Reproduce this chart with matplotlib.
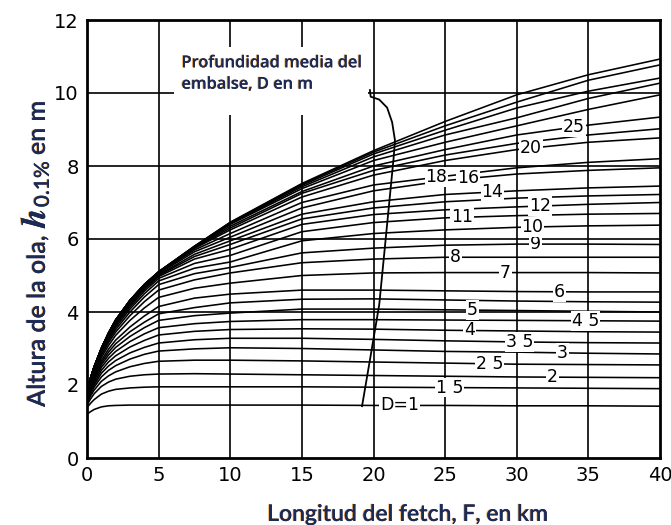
import matplotlib
matplotlib.use("Agg")
import matplotlib.pyplot as plt
import matplotlib.patheffects as pe
from matplotlib.patches import Rectangle
import numpy as np

plt.rcParams['mathtext.fontset'] = 'stix'

# fetch stations (km) at which every depth curve is read
fetch_km = [0, 0.25, 0.5, 1, 1.5, 2, 3, 4, 5, 7.5, 10, 15, 20, 25, 30, 35, 40]

# wave height h0.1% (m) per reservoir depth D (m)
shallow_depths = [1, 1.5, 2, 2.5, 3, 3.5, 4, 4.5, 5]
shallow_heights = [
    [1.20, 1.27, 1.33, 1.40, 1.43, 1.44, 1.45, 1.45, 1.45, 1.45, 1.45, 1.45, 1.44, 1.44, 1.43, 1.43, 1.42],
    [1.38, 1.50, 1.60, 1.75, 1.83, 1.88, 1.92, 1.94, 1.95, 1.95, 1.95, 1.95, 1.94, 1.93, 1.92, 1.91, 1.90],
    [1.45, 1.62, 1.76, 1.96, 2.08, 2.16, 2.24, 2.28, 2.30, 2.31, 2.30, 2.28, 2.26, 2.24, 2.22, 2.21, 2.20],
    [1.50, 1.70, 1.86, 2.10, 2.25, 2.36, 2.50, 2.59, 2.65, 2.68, 2.68, 2.66, 2.63, 2.60, 2.57, 2.56, 2.55],
    [1.55, 1.76, 1.94, 2.22, 2.40, 2.53, 2.71, 2.84, 2.93, 2.99, 3.02, 3.00, 2.96, 2.92, 2.90, 2.87, 2.85],
    [1.58, 1.81, 2.00, 2.32, 2.52, 2.67, 2.88, 3.03, 3.15, 3.24, 3.28, 3.28, 3.25, 3.21, 3.18, 3.16, 3.15],
    [1.60, 1.85, 2.06, 2.40, 2.63, 2.80, 3.04, 3.22, 3.37, 3.47, 3.52, 3.54, 3.53, 3.50, 3.48, 3.46, 3.45],
    [1.62, 1.89, 2.11, 2.48, 2.73, 2.92, 3.19, 3.40, 3.57, 3.68, 3.74, 3.79, 3.79, 3.78, 3.77, 3.76, 3.75],
    [1.64, 1.92, 2.16, 2.55, 2.82, 3.03, 3.33, 3.57, 3.77, 3.90, 3.97, 4.08, 4.08, 4.06, 4.04, 4.02, 4.00],
]

mid_depths = [5.5, 6, 7, 8, 9, 10, 11, 12, 13, 14]
mid_heights = [
    [1.66, 1.95, 2.20, 2.61, 2.90, 3.13, 3.46, 3.72, 3.95, 4.12, 4.25, 4.35, 4.36, 4.33, 4.30, 4.28, 4.27],
    [1.68, 1.98, 2.24, 2.67, 2.98, 3.23, 3.59, 3.89, 4.15, 4.38, 4.49, 4.60, 4.60, 4.58, 4.56, 4.55, 4.55],
    [1.70, 2.02, 2.29, 2.75, 3.08, 3.36, 3.77, 4.11, 4.40, 4.65, 4.79, 5.00, 5.07, 5.08, 5.08, 5.08, 5.07],
    [1.72, 2.05, 2.33, 2.81, 3.16, 3.45, 3.90, 4.28, 4.60, 4.88, 5.07, 5.35, 5.45, 5.50, 5.50, 5.50, 5.50],
    [1.74, 2.08, 2.37, 2.86, 3.22, 3.52, 4.00, 4.41, 4.75, 5.05, 5.22, 5.62, 5.75, 5.83, 5.86, 5.86, 5.85],
    [1.75, 2.10, 2.40, 2.90, 3.27, 3.58, 4.08, 4.50, 4.85, 5.20, 5.37, 5.95, 6.15, 6.25, 6.32, 6.36, 6.38],
    [1.76, 2.12, 2.42, 2.93, 3.31, 3.63, 4.14, 4.57, 4.92, 5.33, 5.55, 6.20, 6.45, 6.58, 6.64, 6.68, 6.70],
    [1.77, 2.13, 2.44, 2.95, 3.34, 3.67, 4.19, 4.62, 4.97, 5.45, 5.72, 6.40, 6.67, 6.80, 6.88, 6.95, 7.00],
    [1.78, 2.14, 2.46, 2.97, 3.37, 3.70, 4.23, 4.66, 5.00, 5.52, 5.85, 6.55, 6.85, 7.02, 7.12, 7.18, 7.22],
    [1.79, 2.15, 2.47, 2.98, 3.39, 3.73, 4.26, 4.69, 5.02, 5.58, 5.95, 6.68, 7.02, 7.22, 7.32, 7.40, 7.45],
]

deep_depths = [16, 18, 20, 22, 25, 30, 35, 40, 50, 100]
deep_heights = [
    [1.80, 2.17, 2.48, 2.99, 3.40, 3.75, 4.28, 4.72, 5.05, 5.65, 6.05, 6.85, 7.32, 7.60, 7.78, 7.88, 7.95],
    [1.81, 2.18, 2.49, 3.00, 3.41, 3.76, 4.30, 4.74, 5.07, 5.70, 6.15, 7.00, 7.48, 7.72, 7.95, 8.10, 8.20],
    [1.82, 2.19, 2.50, 3.00, 3.42, 3.77, 4.31, 4.75, 5.08, 5.74, 6.25, 7.15, 7.75, 8.15, 8.45, 8.65, 8.77],
    [1.83, 2.19, 2.50, 3.00, 3.42, 3.78, 4.31, 4.75, 5.09, 5.76, 6.30, 7.25, 7.88, 8.30, 8.62, 8.85, 9.02],
    [1.84, 2.20, 2.50, 3.00, 3.42, 3.78, 4.32, 4.75, 5.09, 5.77, 6.35, 7.30, 8.00, 8.45, 8.85, 9.12, 9.34],
    [1.85, 2.20, 2.50, 3.00, 3.42, 3.78, 4.32, 4.75, 5.10, 5.78, 6.40, 7.38, 8.15, 8.65, 9.10, 9.55, 9.95],
    [1.85, 2.20, 2.50, 3.00, 3.42, 3.78, 4.32, 4.75, 5.10, 5.79, 6.42, 7.43, 8.25, 8.85, 9.32, 9.85, 10.27],
    [1.85, 2.20, 2.50, 3.00, 3.42, 3.78, 4.32, 4.75, 5.10, 5.80, 6.44, 7.47, 8.33, 8.98, 9.59, 10.05, 10.41],
    [1.85, 2.20, 2.50, 3.00, 3.42, 3.78, 4.32, 4.75, 5.10, 5.80, 6.45, 7.50, 8.38, 9.10, 9.75, 10.35, 10.77],
    [1.85, 2.20, 2.50, 3.00, 3.42, 3.78, 4.32, 4.75, 5.10, 5.80, 6.46, 7.52, 8.42, 9.22, 9.95, 10.50, 10.93],
]

# in-line depth labels: depth, text, fetch where the label sits
label_depths = [1, 1.5, 2, 2.5, 3, 3.5, 4, 4.5, 5, 6, 7, 8, 9, 10, 11, 12, 14, 16, 18, 20, 25]
label_texts = ["D=1", "1 5", "2", "2 5", "3", "3 5", "4", "4 5", "5", "6", "7", "8", "9",
               "10", "11", "12", "14", "16", "18", "20", "25"]
label_fetch = [21.8, 25.3, 32.5, 28.1, 33.2, 30.2, 26.7, 34.8, 26.9, 33.0, 29.2, 25.7, 31.3,
               31.1, 26.2, 31.6, 28.3, 26.6, 24.4, 31.0, 34.0]

# leader from the note down to the D=1 curve
leader_x = [19.75, 19.8, 20.4, 20.95, 21.3, 21.5, 21.4, 20.9, 20.4, 19.8, 19.2]
leader_y = [10.08, 9.90, 9.82, 9.6, 9.2, 8.7, 8.2, 6.2, 4.2, 2.8, 1.42]

navy = '#1b2a57'
fringe = [pe.withSimplePatchShadow(offset=(-0.7, 0.2), shadow_rgbFace='#e8952e', alpha=0.75),
          pe.Normal()]

W, H = 671, 525
fig = plt.figure(figsize=(W / 100, H / 100), dpi=100)
ax = fig.add_axes([87 / W, 67 / H, 573 / W, 438 / H])

depths = shallow_depths + mid_depths + deep_depths
heights = shallow_heights + mid_heights + deep_heights
curves = dict(zip(depths, heights))

for d in depths:
    ax.plot(fetch_km, curves[d], color='black', lw=1.15, zorder=3,
            solid_capstyle='butt', solid_joinstyle='round')

for d, t, f in zip(label_depths, label_texts, label_fetch):
    h = np.interp(f, fetch_km, curves[d])
    ax.text(f, h, t, ha='center', va='center', fontsize=12.5, color='black', zorder=5,
            bbox=dict(facecolor='white', edgecolor='none', pad=0.6))

# grid
for gx in range(5, 40, 5):
    ax.axvline(gx, color='black', lw=1.2, zorder=1)
for gy in [4, 6, 8, 10]:
    ax.axhline(gy, color='black', lw=1.2, zorder=1)

# blank area behind the note
ax.add_patch(Rectangle((6.1, 9.4), 13.5, 1.85, facecolor='white', edgecolor='none', zorder=2))
ax.text(6.6, 10.52, "Profundidad media del\nembalse, D en m", fontsize=11.8,
        family='Open Sans', fontweight='semibold', color=navy, va='center', ha='left',
        linespacing=1.45, zorder=6, path_effects=fringe)
ax.plot(leader_x, leader_y, color='black', lw=1.3, zorder=4)

ax.set_xlim(0, 40)
ax.set_ylim(0, 12)
ax.set_xticks(range(0, 41, 5))
ax.set_yticks(range(0, 13, 2))
ax.tick_params(length=0, labelsize=14, pad=6)
for s in ax.spines.values():
    s.set_linewidth(2.0)

ax.set_xlabel("Longitud del fetch, F, en km", fontsize=16.5, family='Lato',
              fontweight='semibold', color=navy, path_effects=fringe)
ax.xaxis.set_label_coords(0.56, -0.105)

# vertical axis title built piece by piece: full-size subscript and a big italic h
label_font = dict(family='Lato', fontweight='semibold', color=navy)
ylabel_parts = [
    ("Altura de la ola,", dict(fontsize=18, **label_font), 0, 7),
    (r"$\mathbfit{h}$", dict(fontsize=25, color=navy), 0, 1),
    ("0.1%", dict(fontsize=15, **label_font), 4, 6),
    ("en m", dict(fontsize=18, **label_font), 0, 0),
]
renderer = fig.canvas.get_renderer()
base_x, y_px = 45, H - 407
for txt, kw, dx, gap in ylabel_parts:
    t = fig.text((base_x + dx) / W, y_px / H, txt, rotation=90, rotation_mode='anchor',
                 ha='left', va='baseline', path_effects=fringe, **kw)
    y_px = t.get_window_extent(renderer).y1 + gap

fig.savefig("out.png", dpi=100)
